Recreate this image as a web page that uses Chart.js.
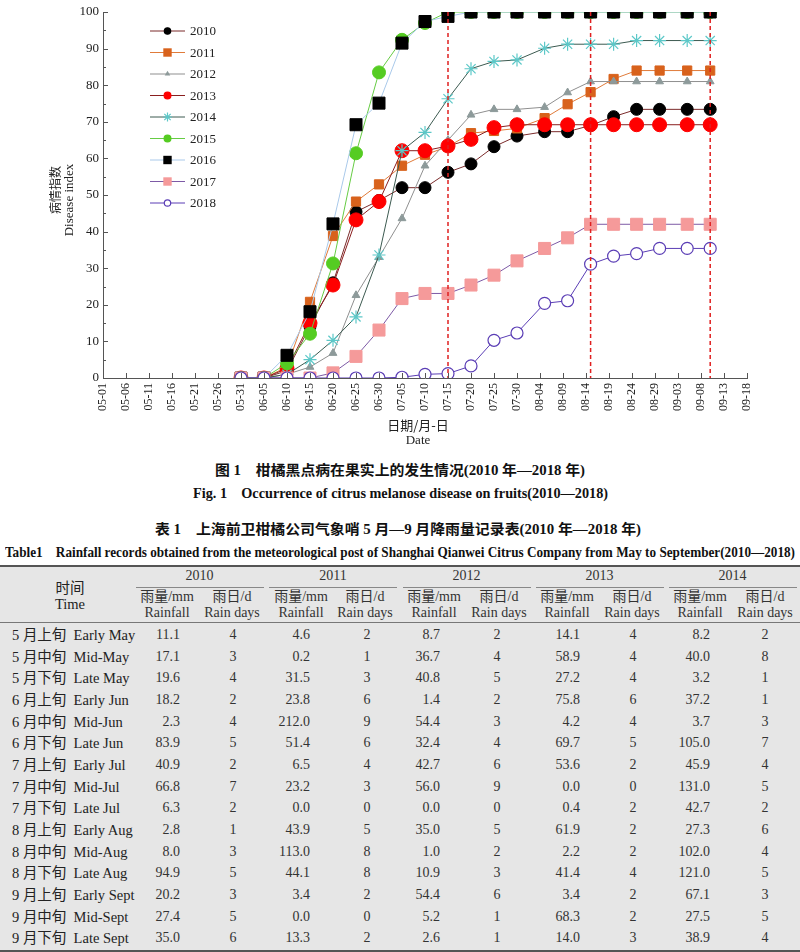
<!DOCTYPE html>
<html><head><meta charset="utf-8">
<script src="https://cdn.jsdelivr.net/npm/chart.js@4.4.0/dist/chart.umd.min.js"></script>
<style>
html,body{margin:0;padding:0}
body{width:800px;height:952px;overflow:hidden;background:#fff;position:relative;font-family:"Liberation Serif","Noto Sans CJK SC",serif;color:#222}
#wrap{position:absolute;left:0;top:0;width:800px;height:455px}
.a{position:absolute;white-space:pre;height:20px;line-height:20px}
.cap{font-weight:bold;color:#111;font-size:14px;transform-origin:0 50%}
.cell{font-size:14px;color:#333}
.lab{font-size:14.5px;color:#222}
.rule{position:absolute;left:0;width:800px;background:#555}
</style></head><body>
<div id="tbg" style="position:absolute;left:0;top:565px;width:800px;height:387px;background:#e6e6e6"></div>
<div id="wrap"><canvas id="c" width="800" height="455"></canvas></div>
<script>
// ---------- chart data ----------
const xTickLabels = ['05-01','05-06','05-11','05-16','05-21','05-26','05-31','06-05','06-10','06-15','06-20','06-25','06-30','07-05','07-10','07-15','07-20','07-25','07-30','08-04','08-09','08-14','08-19','08-24','08-29','09-03','09-08','09-13','09-18'];
const sampleDates = ['05-31','06-05','06-10','06-15','06-20','06-25','06-30','07-05','07-10','07-15','07-20','07-25','07-30','08-05','08-10','08-15','08-20','08-25','08-30','09-05','09-10'];
const seriesYears = ['2010','2011','2012','2013','2014','2015','2016','2017','2018'];
const d2010 = [0,0,2,14.1,26.0,45.4,48.5,52.0,52.0,56.2,58.5,63.2,66.1,67.3,67.3,69.0,71.4,73.4,73.4,73.4,73.4];
const d2011 = [0,0,3.0,20.8,38.8,48.2,52.9,58.0,61.0,63.2,66.9,67.5,68.2,71.0,74.8,78.1,81.7,84.0,84.0,84.0,84.0];
const d2012 = [0,0,1,3,6.8,22.6,33.0,43.6,58.0,65.0,71.9,73.4,73.4,74.0,78.0,81.0,81.0,81.0,81.0,81.0,81.0];
const d2013 = [0,0,2.6,15,25.4,43.2,48.2,62.1,62.1,63.4,65.2,68.4,69.2,69.2,69.2,69.2,69.2,69.2,69.2,69.2,69.2];
const d2014 = [0,0,1,5.0,10.3,16.7,33.6,62.1,67.1,76.3,84.5,86.5,86.9,90.1,91.2,91.2,91.2,92.2,92.2,92.2,92.2];
const d2015 = [0,0,4,12.1,31.3,61.4,83.5,92.4,97,100,100,100,100,100,100,100,100,100,100,100,100];
const d2016 = [0,0,6.2,18.1,42.1,69.2,75.1,91.5,97.4,98.8,100,100,100,100,100,100,100,100,100,100,100];
const d2017 = [0,0,0,0,1.4,5.9,13.1,21.7,23.1,23.1,25.4,28.1,32.0,35.4,38.3,42.0,42.0,42.0,42.0,42.0,42.0];
const d2018 = [0,0,0,0,0,0,0,0.2,1.0,1.2,3.3,10.3,12.3,20.4,21.1,31.1,33.3,34.0,35.4,35.4,35.4];
const markerDates = ['07-15','08-15','09-10'];
const yMin = 0, yMax = 100, yStep = 10;

// ---------- table data ----------
const rowLabelsCN = ['5 月上旬','5 月中旬','5 月下旬','6 月上旬','6 月中旬','6 月下旬','7 月上旬','7 月中旬','7 月下旬','8 月上旬','8 月中旬','8 月下旬','9 月上旬','9 月中旬','9 月下旬'];
const rowLabelsEN = ['Early May','Mid-May','Late May','Early Jun','Mid-Jun','Late Jun','Early Jul','Mid-Jul','Late Jul','Early Aug','Mid-Aug','Late Aug','Early Sept','Mid-Sept','Late Sept'];
const tableYears = ['2010','2011','2012','2013','2014'];
const rain2010 = ['11.1','17.1','19.6','18.2','2.3','83.9','40.9','66.8','6.3','2.8','8.0','94.9','20.2','27.4','35.0'];
const days2010 = [4,3,4,2,4,5,2,7,2,1,3,5,3,5,6];
const rain2011 = ['4.6','0.2','31.5','23.8','212.0','51.4','6.5','23.2','0.0','43.9','113.0','44.1','3.4','0.0','13.3'];
const days2011 = [2,1,3,6,9,6,4,3,0,5,8,8,2,0,2];
const rain2012 = ['8.7','36.7','40.8','1.4','54.4','32.4','42.7','56.0','0.0','35.0','1.0','10.9','54.4','5.2','2.6'];
const days2012 = [2,4,5,2,3,4,6,9,0,5,2,3,6,1,1];
const rain2013 = ['14.1','58.9','27.2','75.8','4.2','69.7','53.6','0.0','0.4','61.9','2.2','41.4','3.4','68.3','14.0'];
const days2013 = [4,4,4,6,4,5,2,0,2,2,2,4,2,2,3];
const rain2014 = ['8.2','40.0','3.2','37.2','3.7','105.0','45.9','131.0','42.7','27.3','102.0','121.0','67.1','27.5','38.9'];
const days2014 = [2,8,1,1,3,7,4,5,2,6,4,5,3,5,4];

// ---------- helpers ----------
function dayOf(s){const p=s.split('-').map(Number);const off={5:0,6:31,7:61,8:92,9:123};return off[p[0]]+p[1]-1;}
const labelByDay = {}; xTickLabels.forEach(l=>labelByDay[dayOf(l)]=l);
const allData = [d2010,d2011,d2012,d2013,d2014,d2015,d2016,d2017,d2018];
const styles = [
  {line:'#7b2b2b', bg:'#000000', bd:'#000000', shape:'circle', r:6, lr:3.2},
  {line:'#e07b3a', bg:'#d8621c', bd:'#d8621c', shape:'rect', r:6.5, lr:4.2},
  {line:'#8f8f8f', bg:'#8d9a9a', bd:'#8d9a9a', shape:'triangle', r:4.5, lr:3.2},
  {line:'#8a1f1f', bg:'#ff0000', bd:'#ff0000', shape:'circle', r:7, lr:3.4},
  {line:'#3c5a50', bg:'#5cc8c8', bd:'#5cc8c8', shape:'star', r:6.5, lr:4.5},
  {line:'#66cc44', bg:'#55cc22', bd:'#55cc22', shape:'circle', r:6.5, lr:3.4},
  {line:'#a9c9ea', bg:'#000000', bd:'#000000', shape:'rect', r:8.5, lr:4.2},
  {line:'#7d5aa6', bg:'#f59a9a', bd:'#f59a9a', shape:'rect', r:8.5, lr:4.2},
  {line:'#5a3db5', bg:'#ffffff', bd:'#5a3db5', shape:'circle', r:6, lr:3.2}
];
const datasets = seriesYears.map((y,i)=>({
  label:y,
  data: sampleDates.map((d,k)=>({x:dayOf(d), y:allData[i][k]})),
  borderColor: styles[i].line, borderWidth:1,
  pointBackgroundColor: styles[i].bg, pointBorderColor: styles[i].bd,
  pointBorderWidth: (i===8||i===4)?1.2:1,
  pointStyle: styles[i].shape, pointRadius: styles[i].r, pointHoverRadius: styles[i].r,
  tension:0, fill:false, order: 9-i
}));

function drawMarker(ctx, s, x, y, r){
  ctx.save(); ctx.fillStyle=s.bg; ctx.strokeStyle=s.bd; ctx.lineWidth=1.2; ctx.beginPath();
  if(s.shape==='circle'){ctx.arc(x,y,r,0,Math.PI*2);ctx.fill();ctx.stroke();}
  else if(s.shape==='rect'){ctx.rect(x-r,y-r,2*r,2*r);ctx.fill();}
  else if(s.shape==='triangle'){ctx.moveTo(x,y-r);ctx.lineTo(x+r*0.87,y+r*0.5);ctx.lineTo(x-r*0.87,y+r*0.5);ctx.closePath();ctx.fill();}
  else if(s.shape==='star'){for(let k=0;k<4;k++){const a=k*Math.PI/4;ctx.moveTo(x-Math.cos(a)*r,y-Math.sin(a)*r);ctx.lineTo(x+Math.cos(a)*r,y+Math.sin(a)*r);}ctx.stroke();}
  ctx.restore();
}

const decor = {
  id:'decor',
  afterDraw(chart){
    const ctx=chart.ctx, xs=chart.scales.x, ys=chart.scales.y, ca=chart.chartArea;
    ctx.save();
    ctx.strokeStyle='#555'; ctx.lineWidth=1;
    for(let v=yMin; v<=yMax; v+=yStep/2){
      const py=Math.round(ys.getPixelForValue(v))+0.5; const len=(v%yStep===0)?5:3;
      ctx.beginPath(); ctx.moveTo(ca.left,py); ctx.lineTo(ca.left+len,py); ctx.stroke();
    }
    xTickLabels.forEach(l=>{const px=Math.round(xs.getPixelForValue(dayOf(l)))+0.5;
      ctx.beginPath(); ctx.moveTo(px,ca.bottom); ctx.lineTo(px,ca.bottom-5); ctx.stroke();});
    ctx.restore();
    ctx.save(); ctx.fillStyle='#222'; ctx.textAlign='center'; ctx.textBaseline='middle';
    ctx.translate(55,190); ctx.rotate(-Math.PI/2); ctx.font='12px "Noto Sans CJK SC"'; ctx.fillText('病情指数',0,0); ctx.restore();
    ctx.save(); ctx.fillStyle='#222'; ctx.textAlign='center'; ctx.textBaseline='middle';
    ctx.translate(70,200); ctx.rotate(-Math.PI/2); ctx.font='13px "Liberation Serif"'; ctx.fillText('Disease index',0,0); ctx.restore();
    ctx.save(); ctx.fillStyle='#222'; ctx.textAlign='center'; ctx.textBaseline='middle';
    ctx.font='13px "Noto Sans CJK SC"'; ctx.fillText('日期/月-日',418,425);
    ctx.font='13px "Liberation Serif"'; ctx.fillText('Date',418,441); ctx.restore();
    ctx.save();
    seriesYears.forEach((y,i)=>{
      const cy=31+i*21.5, s=styles[i];
      ctx.strokeStyle=s.line; ctx.lineWidth=1; ctx.beginPath(); ctx.moveTo(150,cy); ctx.lineTo(185,cy); ctx.stroke();
      drawMarker(ctx,s,167.5,cy,s.lr);
      ctx.fillStyle='#222'; ctx.font='13px "Liberation Serif"'; ctx.textAlign='left'; ctx.textBaseline='middle';
      ctx.fillText(y,190,cy+1);
    });
    ctx.restore();
  },
  afterDatasetsDraw(chart){
    const ctx=chart.ctx, xs=chart.scales.x, ys=chart.scales.y;
    ctx.save(); ctx.strokeStyle='#e02020'; ctx.lineWidth=1.5; ctx.setLineDash([4,3]);
    markerDates.forEach(d=>{const px=xs.getPixelForValue(dayOf(d));
      ctx.beginPath(); ctx.moveTo(px,ys.getPixelForValue(yMax)); ctx.lineTo(px,ys.getPixelForValue(yMin)); ctx.stroke();});
    ctx.restore();
  }
};

new Chart(document.getElementById('c'),{
  type:'line',
  data:{datasets},
  options:{
    responsive:false, animation:false, devicePixelRatio:1,
    layout:{padding:{left:0,right:53,top:12,bottom:0}},
    plugins:{legend:{display:false},tooltip:{enabled:false}},
    scales:{
      x:{type:'linear', min:dayOf(xTickLabels[0]), max:dayOf(xTickLabels[xTickLabels.length-1]),
        afterBuildTicks:s=>{s.ticks=xTickLabels.map(l=>({value:dayOf(l)}));},
        afterFit:s=>{s.height=77;},
        grid:{display:false, drawTicks:false},
        border:{display:true,color:'#555',width:1},
        ticks:{autoSkip:false,minRotation:90,maxRotation:90,padding:5,color:'#222',font:{family:'"Liberation Serif"',size:12},callback:v=>labelByDay[v]||''}
      },
      y:{min:yMin,max:yMax,
        afterFit:s=>{s.width=103;},
        grid:{display:false, drawTicks:false},
        border:{display:true,color:'#555',width:1},
        ticks:{stepSize:yStep,padding:4,color:'#222',font:{family:'"Liberation Serif"',size:13}}
      }
    }
  },
  plugins:[decor]
});

// ---------- captions ----------
function fitText(text, left, right, cy, cls){
  const el=document.createElement('div'); el.className='a '+cls; el.textContent=text;
  el.style.left=left+'px'; el.style.top=(cy-10)+'px';
  document.body.appendChild(el);
  const w=el.getBoundingClientRect().width; el.style.transform='scaleX('+((right-left)/w)+')';
}
fitText('图 1　柑橘黑点病在果实上的发生情况(2010 年—2018 年)',215,585,471,'cap');
fitText('Fig. 1　Occurrence of citrus melanose disease on fruits(2010—2018)',193,608,494,'cap');
fitText('表 1　上海前卫柑橘公司气象哨 5 月—9 月降雨量记录表(2010 年—2018 年)',155,641,530,'cap');
fitText('Table1　Rainfall records obtained from the meteorological post of Shanghai Qianwei Citrus Company from May to September(2010—2018)',5,795,553,'cap');

// ---------- table ----------
function put(text, x, cy, align, cls){
  const el=document.createElement('div'); el.className='a '+cls; el.textContent=text; el.style.top=(cy-10)+'px';
  document.body.appendChild(el);
  const w=el.getBoundingClientRect().width;
  el.style.left=(align==='right'? x-w : align==='center'? x-w/2 : x)+'px';
}
function rule(y,h,l,w,c){const r=document.createElement('div');r.className='rule';r.style.top=y+'px';r.style.height=h+'px';
  if(l!==undefined){r.style.left=l+'px';r.style.width=w+'px';} if(c) r.style.background=c; document.body.appendChild(r);}
const rainHdr=[167,301,434,567,700], daysHdr=[232,365,499,632,765];
const rainRight=[180,310,440,580,710], daysCenter=[233,367,497,633,765];
const rains=[rain2010,rain2011,rain2012,rain2013,rain2014], dayss=[days2010,days2011,days2012,days2013,days2014];
rule(565,1.5); rule(622,1.2,0,800,'#777'); rule(950,1.5);
put('时间',70,588,'center','lab'); put('Time',70,604,'center','lab');
tableYears.forEach((y,g)=>{
  const mid=(rainHdr[g]+daysHdr[g])/2;
  put(y,mid,576,'center','cell');
  rule(587,1,mid-64,128,'#888');
  put('雨量/mm',rainHdr[g],597,'center','cell');
  put('雨日/d',daysHdr[g],597,'center','cell');
  put('Rainfall',rainHdr[g],613,'center','cell');
  put('Rain days',daysHdr[g],613,'center','cell');
});
rowLabelsCN.forEach((cn,i)=>{
  const cy=635+i*21.67;
  put(cn+'  '+rowLabelsEN[i],12,cy,'left','lab');
  for(let g=0;g<5;g++){
    put(rains[g][i],rainRight[g],cy,'right','cell');
    put(String(dayss[g][i]),daysCenter[g],cy,'center','cell');
  }
});
</script>
</body></html>
